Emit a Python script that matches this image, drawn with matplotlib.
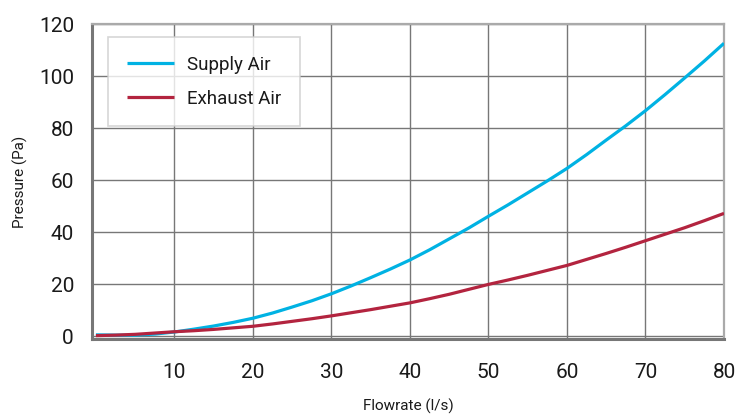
import matplotlib
matplotlib.use("Agg")
import matplotlib.pyplot as plt

flow = [0, 2.5, 5, 7.5, 10, 12.5, 15, 17.5, 20, 22.5, 25, 27.5, 30, 32.5, 35, 37.5,
        40, 42.5, 45, 47.5, 50, 52.5, 55, 57.5, 60, 62.5, 65, 67.5, 70, 72.5, 75, 77.5, 80]
supply = [0.6, 0.5, 0.5, 0.9, 1.7, 2.8, 4.0, 5.4, 7.0, 9.0, 11.3, 13.7, 16.4, 19.4, 22.6, 25.9,
          29.4, 33.3, 37.5, 41.7, 46.2, 50.6, 55.2, 59.8, 64.6, 69.9, 75.5, 81.0, 86.8, 93.0, 99.4, 105.9, 112.7]
exhaust = [0.3, 0.5, 0.8, 1.3, 1.8, 2.2, 2.7, 3.3, 3.9, 4.8, 5.8, 6.8, 7.9, 9.1, 10.3, 11.6,
           12.9, 14.5, 16.2, 18.1, 20.0, 21.7, 23.5, 25.4, 27.3, 29.6, 31.9, 34.3, 36.8, 39.3, 41.8, 44.5, 47.3]
xticks = [10, 20, 30, 40, 50, 60, 70, 80]
yticks = [0, 20, 40, 60, 80, 100, 120]

plt.rcParams['font.family'] = ['Roboto', 'DejaVu Sans']

W, H = 740, 418
fig = plt.figure(figsize=(W / 100, H / 100), dpi=100)
l, r, t, b = 92, 724, 24.3, 338.5
ax = fig.add_axes([l / W, (H - b) / H, (r - l) / W, (b - t) / H])

ax.plot(flow, supply, color='#00b2e3', lw=2.3, label='Supply Air', solid_capstyle='butt', zorder=3)
ax.plot(flow, exhaust, color='#b3243f', lw=2.3, label='Exhaust Air', solid_capstyle='butt', zorder=4)

ax.set_xlim(-0.5, 80)
ax.set_ylim(-0.8, 120)
ax.set_xticks(xticks)
ax.set_yticks(yticks)
ax.tick_params(length=0, labelsize=15, colors='#1a1a1a')
ax.tick_params(axis='x', pad=18)
ax.tick_params(axis='y', pad=13)
ax.grid(True, color='#777777', lw=1.0)
ax.set_axisbelow(True)

for s in ['left', 'bottom']:
    ax.spines[s].set_color('#777777')
    ax.spines[s].set_linewidth(2.2)
for s in ['top', 'right']:
    ax.spines[s].set_color('#aaaaaa')
    ax.spines[s].set_linewidth(1.6)

ax.set_xlabel('Flowrate (l/s)', fontsize=11, color='#1a1a1a', labelpad=12)
ax.set_ylabel('Pressure (Pa)', fontsize=11, color='#1a1a1a', labelpad=8)

leg = ax.legend(loc='upper left', bbox_to_anchor=((108 - l) / (r - l), 1 - (37 - t) / (b - t)),
                prop={'size': 13.5}, frameon=True, fancybox=False, borderpad=1.0,
                handlelength=2.5, handletextpad=0.7, labelspacing=0.85, borderaxespad=0)
leg.get_frame().set_edgecolor('#cccccc')
leg.get_frame().set_linewidth(1.2)
for txt in leg.get_texts():
    txt.set_color('#1a1a1a')

fig.savefig('out.png', dpi=100)
